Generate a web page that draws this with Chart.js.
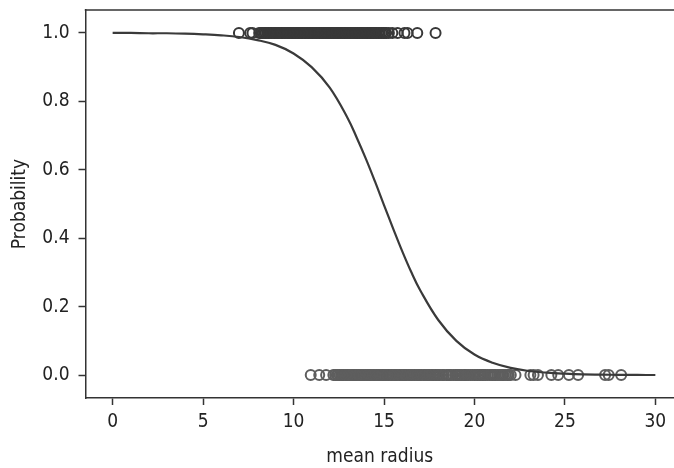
<!DOCTYPE html>
<html>
<head>
<meta charset="utf-8">
<script src="https://cdn.jsdelivr.net/npm/chart.js@4.4.1/dist/chart.umd.min.js"></script>
<style>
  html, body { margin: 0; padding: 0; background: #fff; overflow: hidden; }
  #wrap { width: 674px; height: 468px; }
</style>
</head>
<body>
<div id="wrap"><canvas id="chart"></canvas></div>
<script>
// Fitted curve (x = mean radius, y = probability)
const curveX = [0, 1, 2, 3, 4, 5, 6, 7, 8, 9, 10, 11, 12, 13, 13.5, 14, 14.5, 15, 15.5, 16, 16.5, 17, 18, 19, 20, 21, 22, 23, 24, 25, 26, 27, 28, 29, 30];
const curveY = [1.0, 1.0, 0.999, 0.999, 0.998, 0.996, 0.993, 0.988, 0.979, 0.965, 0.94, 0.90, 0.84, 0.75, 0.693, 0.632, 0.566, 0.497, 0.429, 0.363, 0.302, 0.248, 0.161, 0.10, 0.06, 0.036, 0.021, 0.012, 0.007, 0.004, 0.002, 0.0013, 0.0007, 0.0004, 0.0002];

// Observations with class 1 (top row)
const benignX = [6.98, 7.6, 7.73, 8.1, 8.2, 8.3, 8.38, 8.46, 8.55, 8.62, 8.7, 8.78, 8.87, 8.95, 9.03, 9.1, 9.18, 9.27, 9.33, 9.4,
  9.5, 9.57, 9.66, 9.73, 9.8, 9.88, 9.97, 10.05, 10.12, 10.2, 10.29, 10.36, 10.44, 10.51, 10.6, 10.66, 10.75, 10.82, 10.9, 10.97,
  11.06, 11.13, 11.2, 11.29, 11.37, 11.43, 11.52, 11.6, 11.67, 11.75, 11.84, 11.9, 11.99, 12.06, 12.14, 12.21, 12.3, 12.36, 12.45,
  12.53, 12.6, 12.68, 12.77, 12.83, 12.91, 13.0, 13.08, 13.15, 13.24, 13.3, 13.4, 13.47, 13.54, 13.62, 13.7, 13.78, 13.86, 13.94,
  14.02, 14.1, 14.19, 14.26, 14.34, 14.42, 14.5, 14.58, 14.68, 14.76, 14.86, 14.95, 15.05, 15.12, 15.27, 15.46, 15.75, 16.13,
  16.3, 16.84, 17.85];

// Observations with class 0 (bottom row)
const malignantX = [10.95, 11.42, 11.8, 12.2, 12.3, 12.4, 12.46, 12.55, 12.63, 12.7, 12.77, 12.85, 12.94, 13.0, 13.08, 13.17,
  13.25, 13.34, 13.4, 13.48, 13.57, 13.65, 13.73, 13.8, 13.87, 13.96, 14.05, 14.11, 14.2, 14.27, 14.36, 14.45, 14.5, 14.6, 14.68,
  14.76, 14.86, 14.92, 15.0, 15.1, 15.17, 15.27, 15.34, 15.42, 15.5, 15.6, 15.66, 15.75, 15.85, 15.93, 16.02, 16.1, 16.16, 16.25,
  16.35, 16.42, 16.5, 16.6, 16.69, 16.78, 16.84, 16.93, 17.01, 17.08, 17.2, 17.27, 17.35, 17.42, 17.5, 17.6, 17.68, 17.75, 17.85,
  17.93, 18.01, 18.08, 18.22, 18.31, 18.45, 18.55, 18.61, 18.7, 18.82, 18.94, 19.02, 19.1, 19.19, 19.27, 19.4, 19.45, 19.53,
  19.59, 19.69, 19.79, 19.89, 20.0, 20.09, 20.18, 20.26, 20.34, 20.44, 20.47, 20.57, 20.6, 20.73, 20.84, 20.92, 21.02, 21.09,
  21.16, 21.27, 21.37, 21.46, 21.56, 21.61, 21.71, 21.82, 21.9, 22.01, 22.27, 23.09, 23.27, 23.51, 24.25, 24.63, 25.22, 25.73,
  27.22, 27.42, 28.11];

const xTicks = [0, 5, 10, 15, 20, 25, 30];
const yTicks = [0.0, 0.2, 0.4, 0.6, 0.8, 1.0];

const FONT = "'Liberation Sans Narrow', 'Arial Narrow', 'DejaVu Sans Condensed', sans-serif";
const INK = '#333333';

// the axes run off the right of the picture: keep that edge clean, then draw the top spine
const topSpine = {
  id: 'topSpine',
  afterDraw(c) {
    const { ctx, chartArea } = c;
    ctx.save();
    ctx.fillStyle = '#ffffff';
    ctx.fillRect(c.width - 4, chartArea.top + 1, 4, chartArea.bottom - chartArea.top - 2);
    ctx.strokeStyle = INK;
    ctx.lineWidth = 1.5;
    ctx.beginPath();
    ctx.moveTo(chartArea.left - 0.75, chartArea.top);
    ctx.lineTo(c.width, chartArea.top);
    ctx.stroke();
    ctx.restore();
  },
};

new Chart(document.getElementById('chart'), {
  data: {
    datasets: [
      {
        type: 'line',
        data: curveX.map((x, i) => ({ x, y: curveY[i] })),
        borderColor: '#3a3a3a',
        borderWidth: 2.2,
        pointRadius: 0,
        tension: 0.4,
        order: 0,
      },
      {
        type: 'scatter',
        data: benignX.map(x => ({ x, y: 1 })),
        borderColor: '#383838',
        backgroundColor: 'rgba(0,0,0,0)',
        borderWidth: 2,
        pointRadius: 5,
        order: 1,
      },
      {
        type: 'scatter',
        data: malignantX.map(x => ({ x, y: 0 })),
        borderColor: '#5e5e5e',
        backgroundColor: 'rgba(0,0,0,0)',
        borderWidth: 2,
        pointRadius: 5,
        order: 2,
      },
    ],
  },
  options: {
    responsive: true,
    maintainAspectRatio: false,
    animation: false,
    layout: { autoPadding: false, padding: { top: 10, right: 0, bottom: 0, left: 0 } },
    scales: {
      x: {
        type: 'linear',
        min: -1.5,
        max: 31.03,
        afterBuildTicks: (s) => { s.ticks = xTicks.map(v => ({ value: v })); },
        afterFit: (s) => { s.height = 70; s.paddingLeft = 0; s.paddingRight = 0; },
        grid: { drawOnChartArea: false, drawTicks: true, tickLength: 7, tickWidth: 1.5, tickColor: INK },
        border: { display: true, color: INK, width: 1.5 },
        ticks: { color: '#222', padding: 6, font: { family: FONT, size: 19 }, maxRotation: 0,
          callback: (v) => String(v) },
        title: { display: true, text: 'mean radius', color: '#222', font: { family: FONT, size: 19 },
          padding: { top: 8, bottom: 0 } },
      },
      y: {
        type: 'linear',
        min: -0.067,
        max: 1.067,
        afterBuildTicks: (s) => { s.ticks = yTicks.map(v => ({ value: v })); },
        afterFit: (s) => { s.width = 85.5; s.paddingTop = 0; s.paddingBottom = 0; },
        grid: { drawOnChartArea: false, drawTicks: true, tickLength: 7, tickWidth: 1.5, tickColor: INK },
        border: { display: true, color: INK, width: 1.5 },
        ticks: { color: '#222', padding: 9, font: { family: FONT, size: 19 },
          callback: (v) => Number(v).toFixed(1) },
        title: { display: true, text: 'Probability', color: '#222', font: { family: FONT, size: 19 },
          padding: { top: 9, bottom: 0 } },
      },
    },
    plugins: {
      legend: { display: false },
      tooltip: { enabled: false },
    },
  },
  plugins: [topSpine],
});
</script>
</body>
</html>
